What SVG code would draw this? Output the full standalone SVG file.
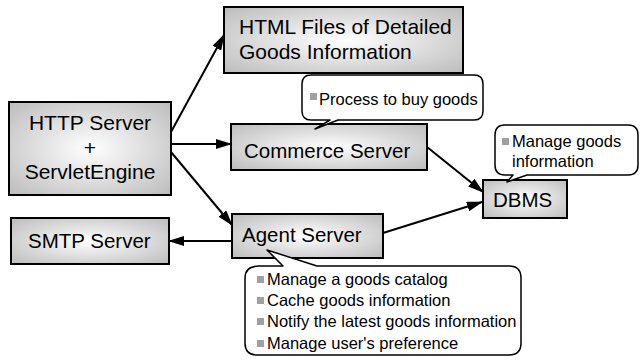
<svg xmlns="http://www.w3.org/2000/svg" width="640" height="360" viewBox="0 0 640 360">
<defs>
<radialGradient id="g" cx="50%" cy="50%" r="70%">
<stop offset="0" stop-color="#ffffff"/>
<stop offset="1" stop-color="#bcbcbc"/>
</radialGradient>
<marker id="ah" markerWidth="16" markerHeight="10" refX="15" refY="5" orient="auto" markerUnits="userSpaceOnUse">
<path d="M0,0 L16,5 L0,10 Z" fill="#000"/>
</marker>
</defs>
<style>
.box{fill:url(#g);stroke:#000;stroke-width:2}
.lbl{font-family:"Liberation Sans",Arial,sans-serif;font-size:20.5px;fill:#000}
.co{fill:#fff;stroke:#000;stroke-width:1.5;stroke-linejoin:round}
.ct{font-family:"Liberation Sans",Arial,sans-serif;font-size:16.5px;fill:#000}
.bl{fill:#a0a0a0}
.cn{stroke:#000;stroke-width:2;fill:none;marker-end:url(#ah)}
</style>
<rect width="640" height="360" fill="#fff"/>
<g id="connectors">
<line class="cn" x1="171" y1="132" x2="224" y2="35"/>
<line class="cn" x1="171" y1="144" x2="231" y2="144"/>
<line class="cn" x1="171" y1="152" x2="232" y2="225"/>
<line class="cn" x1="232" y1="241" x2="169" y2="241"/>
<line class="cn" x1="427" y1="147" x2="483" y2="192"/>
<line class="cn" x1="383" y1="233" x2="482" y2="202"/>
</g>
<g id="http">
<rect class="box" x="9" y="102" width="162" height="93"/>
<text class="lbl" x="90" y="130" text-anchor="middle" style="font-size:21px">HTTP Server</text>
<text class="lbl" x="90" y="155" text-anchor="middle" style="font-size:21px">+</text>
<text class="lbl" x="90" y="179" text-anchor="middle" style="font-size:21px">ServletEngine</text>
</g>
<g id="html">
<rect class="box" x="224" y="7" width="239" height="66"/>
<text class="lbl" x="239" y="34" style="font-size:21px">HTML Files of Detailed</text>
<text class="lbl" x="239" y="59" style="font-size:21px">Goods Information</text>
</g>
<g id="commerce">
<rect class="box" x="231" y="124" width="196" height="46"/>
<text class="lbl" x="244" y="158">Commerce Server</text>
</g>
<g id="agent">
<rect class="box" x="232" y="214" width="151" height="44"/>
<text class="lbl" x="242" y="242">Agent Server</text>
</g>
<g id="smtp">
<rect class="box" x="11" y="218" width="158" height="46"/>
<text class="lbl" x="28" y="248">SMTP Server</text>
</g>
<g id="dbms">
<rect class="box" x="483" y="180" width="84" height="38"/>
<text class="lbl" x="493" y="207">DBMS</text>
</g>
<g id="callout-commerce">
<path class="co" d="M311,75 L474,75 Q483,75 483,84 L483,111 Q483,120 474,120 L338,120 L315,129 L330,120 L311,120 Q302,120 302,111 L302,84 Q302,75 311,75 Z"/>
<rect class="bl" x="310" y="93" width="7" height="7"/>
<text class="ct" x="319" y="105">Process to buy goods</text>
</g>
<g id="callout-dbms">
<path class="co" d="M505,125 L628,125 Q638,125 638,135 L638,165 Q638,175 628,175 L527,175 L507,182 L513,175 L505,175 Q495,175 495,165 L495,135 Q495,125 505,125 Z"/>
<rect class="bl" x="502" y="138" width="7" height="7"/>
<text class="ct" x="512" y="147">Manage goods</text>
<text class="ct" x="512" y="167">information</text>
</g>
<g id="callout-agent">
<path class="co" d="M259,266 L283,266 L267,250 L317,266 L509,266 Q521,266 521,278 L521,343 Q521,355 509,355 L257,355 Q245,355 245,343 L245,278 Q245,266 259,266 Z"/>
<rect class="bl" x="257" y="276" width="7" height="7"/>
<text class="ct" x="267" y="285">Manage a goods catalog</text>
<rect class="bl" x="257" y="297" width="7" height="7"/>
<text class="ct" x="267" y="306">Cache goods information</text>
<rect class="bl" x="257" y="318" width="7" height="7"/>
<text class="ct" x="267" y="327">Notify the latest goods information</text>
<rect class="bl" x="257" y="340" width="7" height="7"/>
<text class="ct" x="267" y="349">Manage user's preference</text>
</g>
</svg>
